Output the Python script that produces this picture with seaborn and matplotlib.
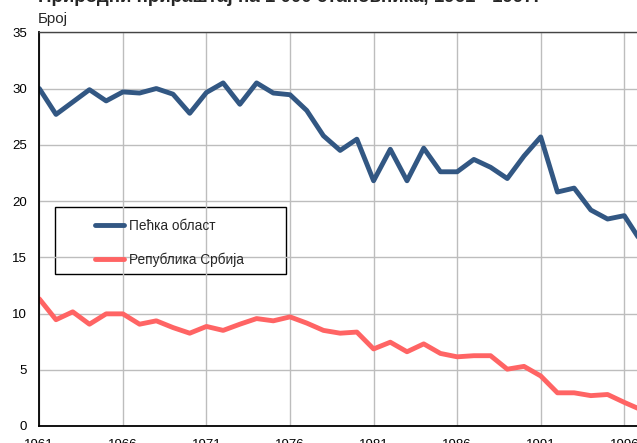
import numpy as np
import pandas as pd
import matplotlib
matplotlib.use("Agg")
import matplotlib.pyplot as plt
from matplotlib.patches import Rectangle
import seaborn as sns

# data
years = list(range(1961, 1998))
pec_region = [30.0, 27.7, 28.8, 29.9, 28.9, 29.7, 29.6, 30.0, 29.5, 27.8,
              29.65, 30.5, 28.6, 30.5, 29.6, 29.45, 28.05, 25.8, 24.5, 25.5,
              21.8, 24.6, 21.8, 24.7, 22.6, 22.6, 23.7, 23.0, 22.0, 24.0,
              25.7, 20.8, 21.15, 19.2, 18.4, 18.7, 16.4]
serbia = [11.3, 9.45, 10.15, 9.05, 9.97, 9.97, 9.05, 9.35, 8.75, 8.25,
          8.85, 8.5, 9.05, 9.55, 9.35, 9.7, 9.15, 8.5, 8.25, 8.35,
          6.85, 7.45, 6.6, 7.3, 6.45, 6.15, 6.25, 6.25, 5.05, 5.3,
          4.45, 2.95, 2.95, 2.7, 2.8, 2.1, 1.45]
series_names = ["Пећка област", "Република Србија"]
colors = ["#325783", "#ff6464"]
title = "Природни прираштај на 1 000 становника, 1961 - 1997."
y_label = "Број"


def main():
    df = pd.DataFrame({
        "year": years * 2,
        "value": pec_region + serbia,
        "series": [series_names[0]] * len(years) + [series_names[1]] * len(years),
    })

    sns.set_style("white")
    plt.rcParams["font.family"] = ["Liberation Sans", "DejaVu Sans"]

    W, H = 637, 443
    fig = plt.figure(figsize=(W / 100, H / 100), dpi=100)
    # axes runs past the right edge, like the cropped original
    left, right, top, bottom = 39.3, 641.0, 32.3, 426.0
    ax = fig.add_axes([left / W, 1 - bottom / H, (right - left) / W, (bottom - top) / H])

    sns.lineplot(data=df, x="year", y="value", hue="series",
                 palette=colors, linewidth=3.5, ax=ax, legend=False)

    ax.set_xlim(1961, 1997)
    ax.set_ylim(0, 35)
    ax.set_xticks(np.arange(1961, 1997, 5))
    ax.set_yticks(np.arange(0, 36, 5))
    ax.grid(True, color="#bdbdbd", linewidth=1.0)
    ax.set_axisbelow(True)
    ax.set(xlabel="", ylabel="")
    ax.tick_params(axis="both", length=0, labelsize=9.5, colors="black")
    ax.tick_params(axis="y", pad=9)
    ax.tick_params(axis="x", pad=9)
    for side in ["left", "bottom"]:
        ax.spines[side].set_color("black")
        ax.spines[side].set_linewidth(1.3)
    ax.spines["top"].set_color("#444444")
    ax.spines["top"].set_linewidth(1.0)
    ax.spines["right"].set_visible(False)

    # legend, with its own plain box
    handles = [plt.Line2D([], [], color=c, linewidth=3.5) for c in colors]
    ax.legend(handles, series_names, loc="upper left",
              bbox_to_anchor=(95 / W, 1 - 218.5 / H), bbox_transform=fig.transFigure,
              frameon=False, borderpad=0, borderaxespad=0, handlelength=2.1,
              handletextpad=0.4, labelspacing=1.45, fontsize=9.8)
    fig.patches.append(Rectangle((55 / W, 1 - 274 / H), 230.7 / W, 67.3 / H,
                                 transform=fig.transFigure, facecolor="white",
                                 edgecolor="black", linewidth=1.0, zorder=0))
    ax.set_zorder(1)
    ax.patch.set_alpha(0)

    # texts above the plot; the title is cut off by the top edge
    fig.text(38 / W, 1 - 2 / H, title, fontsize=13.5, fontweight="bold",
             va="baseline", ha="left")
    fig.text(38 / W, 1 - 22.5 / H, y_label, fontsize=10.8, va="baseline", ha="left")

    fig.savefig("out.png", dpi=100)


if __name__ == "__main__":
    main()
